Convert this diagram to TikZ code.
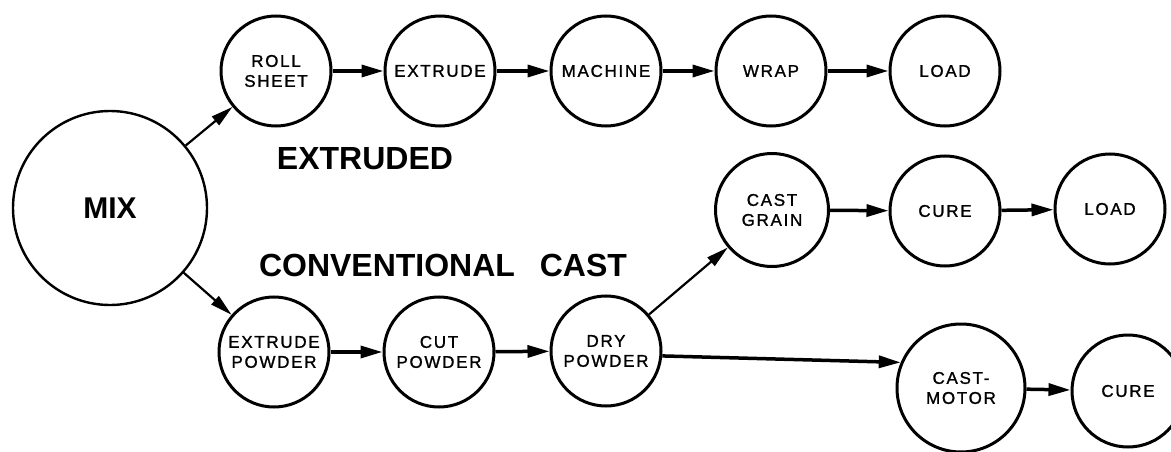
\documentclass[tikz,border=0pt]{standalone}
\usepackage{fontspec}
\setmainfont{Liberation Sans}
\newfontfamily\labfont[LetterSpace=10,FakeBold=1.2]{Liberation Sans}
\usetikzlibrary{arrows.meta}
\tikzset{
  stage/.style={draw, circle, line width=3pt, minimum size=110pt, inner sep=0pt,
    align=center, font=\labfont\fontsize{17}{20}\selectfont},
  bigstage/.style={stage, minimum size=194pt, line width=2.4pt,
    font=\bfseries\fontsize{30}{34}\selectfont},
  flow/.style={line width=3.5pt, -{Triangle[length=22pt,width=12pt]}},
  diag/.style={line width=2.2pt, -{Triangle[length=22pt,width=11pt]}},
  heading/.style={font=\bfseries\fontsize{32}{36}\selectfont, inner sep=0pt}
}
\begin{document}
\begin{tikzpicture}[x=1pt,y=-1pt]
\useasboundingbox (0,0) rectangle (1171,452);
\clip (0,0) rectangle (1171,452);
\node[bigstage] (mix) at (110,208) {MIX};
\node[stage] (roll) at (276,71) {ROLL\\SHEET};
\node[stage] (ext) at (440,71) {EXTRUDE};
\node[stage] (mach) at (606,71) {MACHINE};
\node[stage] (wrap) at (771,71) {WRAP};
\node[stage] (load1) at (945,71) {LOAD};
\node[stage, minimum size=113pt] (castg) at (772,210) {CAST\\GRAIN};
\node[stage] (cure1) at (945,211) {CURE};
\node[stage] (load2) at (1110,209) {LOAD};
\node[stage] (extp) at (274,352) {EXTRUDE\\POWDER};
\node[stage] (cutp) at (439,352) {CUT\\POWDER};
\node[stage] (dryp) at (606,351) {DRY\\POWDER};
\node[stage, minimum size=128pt] (castm) at (961,388) {CAST-\\MOTOR};
\node[stage, minimum size=112pt] (cure2) at (1128,391) {CURE};
\node[heading] (hext) at (365,159) {EXTRUDED};
\node[heading] (hconv) at (443,265) {CONVENTIONAL\hspace{0.5em} CAST};
\draw[diag] (mix) -- (roll);
\draw[diag] (mix) -- (extp);
\draw[flow] (roll) -- (ext);
\draw[flow] (ext) -- (mach);
\draw[flow] (mach) -- (wrap);
\draw[flow] (wrap) -- (load1);
\draw[flow] (extp) -- (cutp);
\draw[flow] (cutp) -- (dryp);
\draw[diag] (dryp) -- (castg);
\draw[flow] (castg) -- (cure1);
\draw[flow] (cure1) -- (load2);
\draw[flow] (dryp.-5) -- (castm.157);
\draw[flow] (castm) -- (cure2);
\end{tikzpicture}
\end{document}
